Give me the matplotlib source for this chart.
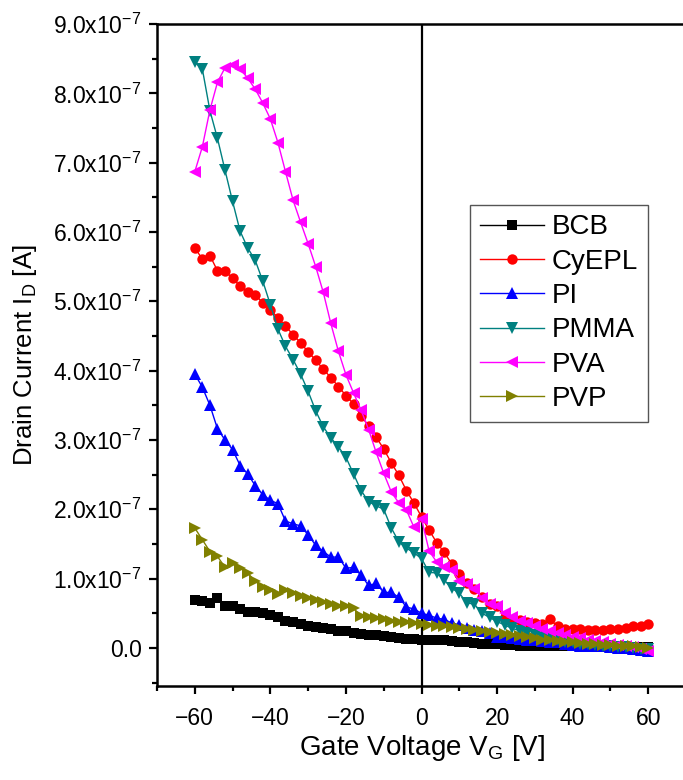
import numpy as np
import matplotlib
matplotlib.use('Agg')
from matplotlib import pyplot as plt
from matplotlib.ticker import MultipleLocator, FuncFormatter

plt.rcParams['font.family'] = ['Liberation Sans', 'DejaVu Sans']
plt.rcParams['mathtext.fontset'] = 'custom'
plt.rcParams['mathtext.rm'] = 'Liberation Sans'

vg = list(range(-60, 61, 2))

# drain current in units of 1e-7 A
bcb = [0.69, 0.68, 0.65, 0.72, 0.61, 0.60, 0.56, 0.52, 0.52, 0.50,
       0.48, 0.44, 0.39, 0.37, 0.35, 0.32, 0.30, 0.29, 0.27, 0.25,
       0.24, 0.22, 0.20, 0.19, 0.18, 0.17, 0.15, 0.14, 0.13, 0.13,
       0.12, 0.12, 0.11, 0.11, 0.10, 0.09, 0.08, 0.07, 0.06, 0.05,
       0.05, 0.04, 0.04, 0.03, 0.03, 0.03, 0.02, 0.02, 0.02, 0.02,
       0.02, 0.02, 0.02, 0.01, 0.01, 0.01, 0.01, 0.01, 0.01, 0.01, 0.01]
cyepl = [5.77, 5.61, 5.66, 5.44, 5.44, 5.33, 5.22, 5.13, 5.09, 4.98,
         4.88, 4.76, 4.64, 4.52, 4.40, 4.27, 4.15, 4.02, 3.90, 3.77,
         3.64, 3.52, 3.35, 3.20, 3.04, 2.87, 2.67, 2.49, 2.27, 2.09,
         1.89, 1.70, 1.52, 1.38, 1.21, 1.06, 0.93, 0.85, 0.74, 0.63,
         0.60, 0.44, 0.40, 0.40, 0.38, 0.36, 0.34, 0.41, 0.31, 0.27,
         0.27, 0.27, 0.26, 0.26, 0.26, 0.27, 0.27, 0.28, 0.32, 0.32, 0.34]
pi = [3.95, 3.76, 3.50, 3.16, 3.00, 2.86, 2.63, 2.51, 2.34, 2.21,
      2.13, 2.08, 1.83, 1.79, 1.76, 1.63, 1.48, 1.39, 1.31, 1.31,
      1.15, 1.16, 1.05, 0.90, 0.93, 0.80, 0.80, 0.73, 0.59, 0.56,
      0.50, 0.47, 0.43, 0.41, 0.36, 0.33, 0.29, 0.26, 0.24, 0.21,
      0.16, 0.15, 0.14, 0.13, 0.12, 0.11, 0.10, 0.09, 0.08, 0.05,
      0.04, 0.03, 0.03, 0.02, 0.02, 0.01, 0.00, 0.00, -0.01, -0.03, -0.04]
pmma = [8.45, 8.35, 7.75, 7.35, 6.89, 6.44, 6.01, 5.77, 5.59, 5.29,
        4.95, 4.60, 4.35, 4.16, 3.95, 3.70, 3.42, 3.19, 3.03, 2.90,
        2.75, 2.51, 2.27, 2.11, 2.05, 2.00, 1.73, 1.53, 1.44, 1.37,
        1.29, 1.09, 1.08, 0.98, 0.86, 0.79, 0.65, 0.63, 0.50, 0.44,
        0.38, 0.33, 0.28, 0.25, 0.21, 0.18, 0.15, 0.13, 0.11, 0.09,
        0.08, 0.06, 0.05, 0.04, 0.03, 0.02, 0.01, 0.01, 0.00, -0.01, -0.02]
pva = [6.87, 7.23, 7.76, 8.16, 8.37, 8.41, 8.35, 8.22, 8.06, 7.86,
       7.63, 7.29, 6.87, 6.46, 6.14, 5.83, 5.50, 5.13, 4.68, 4.28,
       3.94, 3.68, 3.43, 3.15, 2.82, 2.52, 2.25, 2.09, 1.99, 1.74,
       1.86, 1.40, 1.24, 1.16, 1.12, 0.96, 0.92, 0.85, 0.72, 0.64,
       0.60, 0.50, 0.44, 0.39, 0.36, 0.31, 0.27, 0.24, 0.21, 0.19,
       0.16, 0.14, 0.12, 0.10, 0.08, 0.06, 0.04, 0.02, 0.01, -0.01, -0.04]
pvp = [1.73, 1.56, 1.39, 1.32, 1.16, 1.23, 1.15, 1.08, 0.96, 0.88,
       0.84, 0.78, 0.84, 0.79, 0.75, 0.72, 0.69, 0.66, 0.64, 0.61,
       0.60, 0.57, 0.46, 0.44, 0.43, 0.41, 0.39, 0.38, 0.37, 0.36,
       0.34, 0.33, 0.32, 0.31, 0.30, 0.28, 0.27, 0.26, 0.24, 0.23,
       0.21, 0.20, 0.18, 0.17, 0.15, 0.14, 0.12, 0.11, 0.10, 0.09,
       0.08, 0.07, 0.06, 0.05, 0.04, 0.04, 0.03, 0.02, 0.02, 0.01, 0.00]

labels = ['BCB', 'CyEPL', 'PI', 'PMMA', 'PVA', 'PVP']
series = [bcb, cyepl, pi, pmma, pva, pvp]
colors = ['#000000', '#FF0000', '#0000FF', '#008080', '#FF00FF', '#808000']
markers = ['s', 'o', '^', 'v', '<', '>']
msizes = [6.5, 7.5, 8, 8, 8, 8]

fig = plt.figure(figsize=(6.83, 7.8), dpi=100)
ax = fig.add_axes([0.2299, 0.1205, 0.7745, 0.8487])

for lab, ys, c, m, ms in zip(labels, series, colors, markers, msizes):
    ax.plot(vg, np.array(ys) * 1e-7, color=c, marker=m, markersize=ms,
            lw=1, label=lab, markeredgewidth=0)

ax.axvline(0, color='k', lw=1.6, zorder=0)

ax.set_xlim(-70, 70)
ax.set_ylim(-0.55e-7, 9.0e-7)
ax.xaxis.set_major_locator(MultipleLocator(20))
ax.xaxis.set_minor_locator(MultipleLocator(10))
ax.yaxis.set_major_locator(MultipleLocator(1e-7))
ax.yaxis.set_minor_locator(MultipleLocator(0.5e-7))


def fmt(v, pos):
    m = v / 1e-7
    if abs(m) < 1e-6:
        return '0.0'
    return r'%.1fx10$\mathregular{^{-7}}$' % m


ax.yaxis.set_major_formatter(FuncFormatter(fmt))
ax.tick_params(which='major', direction='out', length=6, width=1.6, labelsize=16.5)
ax.tick_params(which='minor', direction='out', length=3.5, width=1.6)
ax.tick_params(axis='x', pad=9)
ax.tick_params(axis='y', pad=5)
for s in ax.spines.values():
    s.set_linewidth(1.8)

ax.set_xlabel(r'Gate Voltage V$\mathregular{_G}$ [V]', fontsize=20, labelpad=2)
ax.set_ylabel(r'Drain Current I$\mathregular{_D}$ [A]', fontsize=18.5, labelpad=10)

leg = ax.legend(loc='upper left', bbox_to_anchor=(0.592, 0.727), fontsize=20,
                fancybox=False, edgecolor='#555555', framealpha=1,
                handlelength=2.3, labelspacing=0.3, borderpad=0.35,
                handletextpad=0.3, borderaxespad=0)
leg.get_frame().set_linewidth(1.0)

fig.savefig('out.png', dpi=100)
